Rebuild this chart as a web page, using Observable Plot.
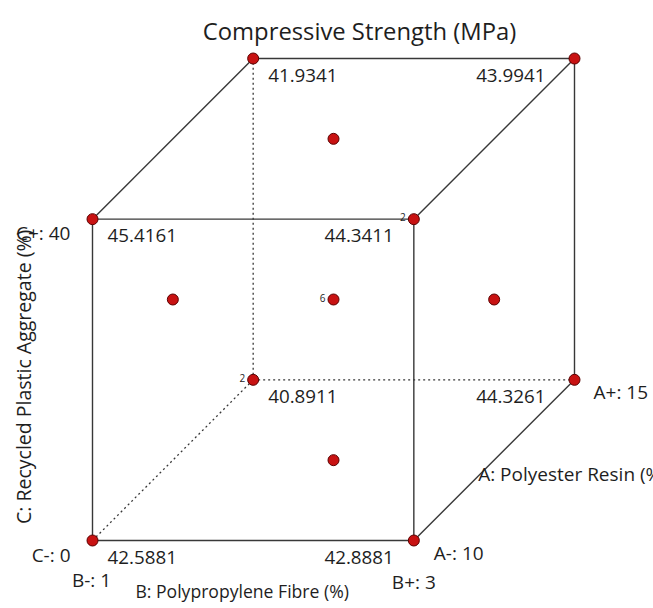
<!DOCTYPE html>
<html>
<head>
<meta charset="utf-8">
<script src="https://cdn.jsdelivr.net/npm/d3@7"></script>
<script src="https://cdn.jsdelivr.net/npm/@observablehq/plot@0.6"></script>
<style>
  html, body { margin: 0; padding: 0; background: #fff; overflow: hidden; }
  #chart svg { display: block; }
</style>
</head>
<body>
<div id="chart"></div>
<script>
// ---- Data ----
const chartTitle = "Compressive Strength (MPa)";
// Coded factor levels for the 8 cube corners
const cornerA = [-1, -1, -1, -1, 1, 1, 1, 1];
const cornerB = [-1, 1, -1, 1, -1, 1, -1, 1];
const cornerC = [-1, -1, 1, 1, -1, -1, 1, 1];
const cornerResponse = [42.5881, 42.8881, 45.4161, 44.3411, 40.8911, 44.3261, 41.9341, 43.9941];
const cornerReplicates = [1, 1, 1, 2, 2, 1, 1, 1];
// Centre and face-centre design points
const pointA = [0, 0, 0, 0, 0];
const pointB = [0, 0, 0, -1, 1];
const pointC = [0, 1, -1, 0, 0];
const pointReplicates = [6, 1, 1, 1, 1];
// Factor names and levels
const factorNames = ["A: Polyester Resin (%)", "B: Polypropylene Fibre (%)", "C: Recycled Plastic Aggregate (%)"];
const factorLow = ["A-: 10", "B-: 1", "C-: 0"];
const factorHigh = ["A+: 15", "B+: 3", "C+: 40"];

// ---- Oblique projection of coded coordinates ----
const u = v => (v + 1) / 2;
const px = d => u(d.B) + 0.5 * u(d.A);
const py = d => u(d.C) + 0.5 * u(d.A);

const corners = cornerA.map((A, i) => ({A, B: cornerB[i], C: cornerC[i], value: cornerResponse[i], reps: cornerReplicates[i]}));
const points = pointA.map((A, i) => ({A, B: pointB[i], C: pointC[i], reps: pointReplicates[i]}));

// Edges: pairs of corners differing in exactly one factor
const hidden = c => c.A === 1 && c.B === -1 && c.C === -1;
const edges = [];
for (let i = 0; i < corners.length; i++) for (let j = i + 1; j < corners.length; j++) {
  const p = corners[i], q = corners[j];
  const diff = (p.A !== q.A) + (p.B !== q.B) + (p.C !== q.C);
  if (diff === 1) edges.push({p, q, dashed: hidden(p) || hidden(q)});
}

const font = "'Open Sans', 'Noto Sans', sans-serif";
const ink = "#1e1e1e";
const lineColor = "#383838";

const labelsLeft = corners.filter(d => d.B === -1);
const labelsRightFront = corners.filter(d => d.B === 1 && d.A === -1);
const labelsRightBack = corners.filter(d => d.B === 1 && d.A === 1);

const valueSize = 18.8;
const levelSize = 19;
const nameSize = 17.6;

const plot = Plot.plot({
  width: 653,
  height: 608,
  marginLeft: 92,
  marginRight: 79,
  marginTop: 58,
  marginBottom: 68,
  x: {domain: [0, 1.5], axis: null},
  y: {domain: [0, 1.5], axis: null},
  style: {fontFamily: font, background: "#fff", overflow: "visible"},
  marks: [
    Plot.link(edges.filter(e => !e.dashed), {
      x1: e => px(e.p), y1: e => py(e.p), x2: e => px(e.q), y2: e => py(e.q),
      stroke: lineColor, strokeWidth: 1.4
    }),
    Plot.link(edges.filter(e => e.dashed), {
      x1: e => px(e.p), y1: e => py(e.p), x2: e => px(e.q), y2: e => py(e.q),
      stroke: lineColor, strokeWidth: 1.3, strokeDasharray: "2,3"
    }),
    // Response values at corners
    Plot.text(labelsLeft, {x: px, y: py, text: d => d.value.toFixed(4), textAnchor: "start", dx: 15, dy: 17, fontSize: valueSize, fill: ink}),
    Plot.text(labelsRightFront, {x: px, y: py, text: d => d.value.toFixed(4), textAnchor: "end", dx: -20, dy: 17, fontSize: valueSize, fill: ink}),
    Plot.text(labelsRightBack, {x: px, y: py, text: d => d.value.toFixed(4), textAnchor: "end", dx: -29, dy: 17, fontSize: valueSize, fill: ink}),
    // Design points
    Plot.dot(corners, {x: px, y: py, r: 5.5, fill: "#c81212", stroke: "#5a0000", strokeWidth: 1}),
    Plot.dot(points, {x: px, y: py, r: 5.5, fill: "#c81212", stroke: "#5a0000", strokeWidth: 1}),
    // Replicate counts
    Plot.text(corners.concat(points).filter(d => d.reps > 1), {x: px, y: py, text: d => String(d.reps), textAnchor: "end", dx: -8, dy: -1, fontSize: 10, fill: ink}),
    // Factor level labels
    Plot.text([{A: -1, B: -1, C: 1}], {x: px, y: py, text: () => factorHigh[2], textAnchor: "end", dx: -22, dy: 15, fontSize: levelSize, fill: ink}),
    Plot.text([{A: -1, B: -1, C: -1}], {x: px, y: py, text: () => factorLow[2], textAnchor: "end", dx: -22, dy: 15, fontSize: levelSize, fill: ink}),
    Plot.text([{A: -1, B: -1, C: -1}], {x: px, y: py, text: () => factorLow[1], textAnchor: "middle", dx: -1, dy: 40, fontSize: levelSize, fill: ink}),
    Plot.text([{A: -1, B: 1, C: -1}], {x: px, y: py, text: () => factorHigh[1], textAnchor: "middle", dx: 0, dy: 42, fontSize: levelSize, fill: ink}),
    Plot.text([{A: -1, B: 1, C: -1}], {x: px, y: py, text: () => factorLow[0], textAnchor: "start", dx: 20, dy: 13, fontSize: levelSize, fill: ink}),
    Plot.text([{A: 1, B: 1, C: -1}], {x: px, y: py, text: () => factorHigh[0], textAnchor: "start", dx: 19, dy: 13, fontSize: levelSize, fill: ink}),
    // Factor names
    Plot.text([{A: -1, B: 0, C: -1}], {x: px, y: py, text: () => factorNames[1], textAnchor: "middle", dx: -11, dy: 52, fontSize: nameSize, fill: ink}),
    Plot.text([{A: 0, B: 1, C: -1}], {x: px, y: py, text: () => factorNames[0], textAnchor: "start", dx: -16, dy: 15, fontSize: 19, fill: ink}),
    Plot.text([{A: -1, B: -1, C: 0}], {x: px, y: py, text: () => factorNames[2], textAnchor: "middle", rotate: -90, dx: -68, dy: -3, fontSize: 19.5, fill: ink}),
    // Title
    Plot.text([chartTitle], {frameAnchor: "top", text: d => d, dx: 26, dy: -35, fontSize: 23.8, fill: ink})
  ]
});
document.getElementById("chart").appendChild(plot);
</script>
</body>
</html>
